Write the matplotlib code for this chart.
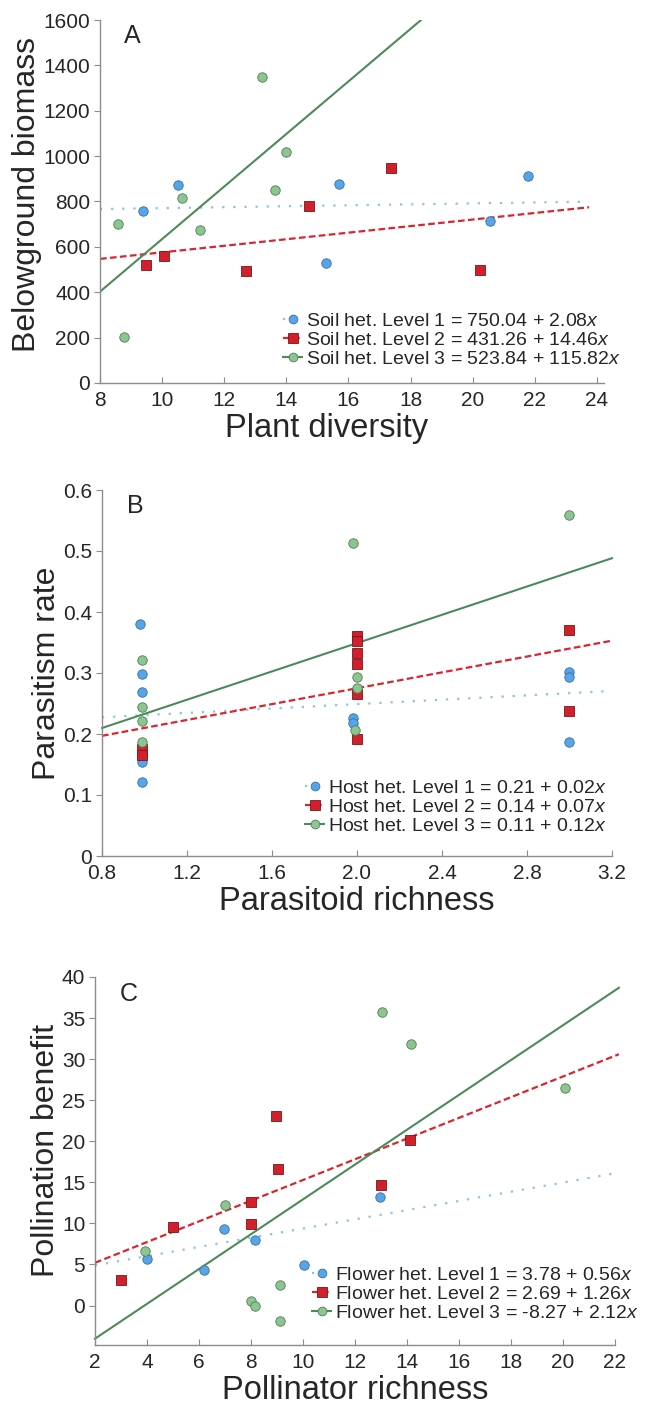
import numpy as np
import matplotlib
matplotlib.use('Agg')
import matplotlib.pyplot as plt
from matplotlib.lines import Line2D

plt.rcParams['font.family'] = ['Liberation Sans', 'DejaVu Sans']
plt.rcParams['mathtext.fontset'] = 'custom'
plt.rcParams['mathtext.rm'] = 'Liberation Sans'
plt.rcParams['mathtext.it'] = 'Liberation Sans:italic'

# ---- panel A: belowground biomass vs plant diversity
a_x1 = [9.39, 10.52, 15.70, 15.28, 20.56, 21.78]
a_y1 = [756, 873, 878, 528, 716, 914]
a_x2 = [9.48, 10.07, 12.71, 14.72, 17.37, 20.23]
a_y2 = [521, 561, 493, 778, 947, 499]
a_x3 = [8.57, 8.77, 10.64, 11.22, 13.23, 13.63, 13.99]
a_y3 = [702, 203, 816, 675, 1350, 851, 1016]
a_fit = [(750.04, 2.08), (431.26, 14.46), (-523.84, 115.82)]
a_labels = ['Soil het. Level 1 = 750.04 + 2.08$x$',
            'Soil het. Level 2 = 431.26 + 14.46$x$',
            'Soil het. Level 3 = 523.84 + 115.82$x$']

# ---- panel B: parasitism rate vs parasitoid richness
b_x1 = [0.98, 0.99, 0.99, 0.99, 0.99, 0.99, 1.98, 1.98, 3.0, 3.0, 3.0]
b_y1 = [0.381, 0.299, 0.269, 0.162, 0.154, 0.121, 0.226, 0.218, 0.302, 0.294, 0.187]
b_x2 = [0.99, 0.99, 2.0, 2.0, 2.0, 2.0, 2.0, 2.0, 3.0, 3.0]
b_y2 = [0.175, 0.166, 0.360, 0.352, 0.333, 0.314, 0.266, 0.191, 0.370, 0.237]
b_x3 = [0.99, 0.99, 0.99, 0.99, 1.98, 2.0, 2.0, 1.99, 3.0]
b_y3 = [0.322, 0.245, 0.222, 0.187, 0.513, 0.293, 0.275, 0.207, 0.559]
b_fit = [(0.213, 0.018), (0.145, 0.065), (0.117, 0.116)]
b_labels = ['Host het. Level 1 = 0.21 + 0.02$x$',
            'Host het. Level 2 = 0.14 + 0.07$x$',
            'Host het. Level 3 = 0.11 + 0.12$x$']

# ---- panel C: pollination benefit vs pollinator richness
c_x1 = [4.0, 6.19, 6.98, 8.17, 10.03, 12.96]
c_y1 = [5.62, 4.27, 9.28, 8.02, 4.92, 13.27]
c_x2 = [2.99, 5.01, 8.01, 8.01, 8.98, 9.04, 13.01, 14.1]
c_y2 = [3.17, 9.52, 12.61, 9.93, 23.07, 16.68, 14.73, 20.14]
c_x3 = [3.91, 7.01, 7.99, 8.16, 9.1, 9.1, 13.04, 14.14, 20.06]
c_y3 = [6.59, 12.25, 0.53, -0.08, 2.48, -1.83, 35.69, 31.86, 26.53]
c_fit = [(3.78, 0.56), (2.69, 1.26), (-8.27, 2.12)]
c_labels = ['Flower het. Level 1 = 3.78 + 0.56$x$',
            'Flower het. Level 2 = 2.69 + 1.26$x$',
            'Flower het. Level 3 = -8.27 + 2.12$x$']

W, H = 653, 1406
fig = plt.figure(figsize=(W / 100, H / 100), dpi=100)

txt = '#262626'
spine_c = '#8c8c8c'
styles = [
    dict(marker='o', mfc='#56a5e8', mec='#3b6f9c', line='#8cc4dc', ls=(0, (1, 4)), lw=1.6),
    dict(marker='s', mfc='#d1202b', mec='#7a1418', line='#d8262f', ls=(0, (3, 1.5)), lw=1.6),
    dict(marker='o', mfc='#8cc590', mec='#4f7d55', line='#4d8a59', ls='-', lw=1.5),
]


def make_axes(l, r, t, b):
    return fig.add_axes([l / W, 1 - b / H, (r - l) / W, (b - t) / H])


def draw_panel(ax, xs, ys, fits, labels, xline, letter, xlabel, ylabel,
               xlim, ylim, xticks, yticks, xfmt, leg_anchor, clip=True):
    handles = []
    for i in range(3):
        st = styles[i]
        a, b = fits[i]
        xl = np.array(xline)
        ax.plot(xl, a + b * xl, color=st['line'], ls=st['ls'], lw=st['lw'],
                clip_on=clip, zorder=2)
        ms = 7.2 if st['marker'] == 's' else 6.8
        ax.plot(xs[i], ys[i], ls='none', marker=st['marker'], ms=ms,
                mfc=st['mfc'], mec=st['mec'], mew=0.6, zorder=3, clip_on=False)
        handles.append(Line2D([], [], color=st['line'], ls=st['ls'], lw=st['lw'],
                              marker=st['marker'], ms=ms - 0.5, mfc=st['mfc'],
                              mec=st['mec'], mew=0.6))
    ax.set_xlim(*xlim)
    ax.set_ylim(*ylim)
    ax.set_xticks(xticks)
    ax.set_xticklabels([xfmt.format(v) for v in xticks])
    ax.set_yticks(yticks)
    for s in ['top', 'right']:
        ax.spines[s].set_visible(False)
    for s in ['left', 'bottom']:
        ax.spines[s].set_color(spine_c)
        ax.spines[s].set_linewidth(1.0)
    ax.tick_params(axis='x', direction='in', length=4, color=spine_c,
                   labelsize=15, labelcolor=txt, pad=6)
    ax.tick_params(axis='y', direction='out', length=4, color=spine_c,
                   labelsize=15, labelcolor=txt, pad=3)
    ax.set_xlabel(xlabel, fontsize=23.5, color=txt, labelpad=2)
    ax.set_ylabel(ylabel, fontsize=23, color=txt, labelpad=1)
    ax.text(0.065, 0.955, letter, transform=ax.transAxes, fontsize=18,
            color=txt, ha='center', va='center')
    leg = fig.legend(handles, labels, loc='upper left',
                     bbox_to_anchor=(leg_anchor[0] / W, 1 - leg_anchor[1] / H),
                     frameon=False, fontsize=14, handlelength=1.0,
                     handletextpad=0.2, labelspacing=0.08, borderpad=0,
                     borderaxespad=0)
    for t in leg.get_texts():
        t.set_color(txt)


axA = make_axes(100, 604, 20, 383)
draw_panel(axA, [a_x1, a_x2, a_x3], [a_y1, a_y2, a_y3], a_fit, a_labels,
           [8, 23.75], 'A', 'Plant diversity', 'Belowground biomass',
           (8, 24.23), (0, 1600), [8, 10, 12, 14, 16, 18, 20, 22, 24],
           [0, 200, 400, 600, 800, 1000, 1200, 1400, 1600], '{:d}',
           (283, 312))
axA.xaxis.label.set_x(0.45)
axA.yaxis.label.set_y(0.52)

axB = make_axes(102, 612, 490, 856)
draw_panel(axB, [b_x1, b_x2, b_x3], [b_y1, b_y2, b_y3], b_fit, b_labels,
           [0.8, 3.2], 'B', 'Parasitoid richness', 'Parasitism rate',
           (0.8, 3.2), (0, 0.6), [0.8, 1.2, 1.6, 2.0, 2.4, 2.8, 3.2],
           [0, 0.1, 0.2, 0.3, 0.4, 0.5, 0.6], '{:.1f}',
           (305, 779), clip=False)
axB.set_yticklabels(['0', '0.1', '0.2', '0.3', '0.4', '0.5', '0.6'])

axC = make_axes(95, 615, 977, 1345)
draw_panel(axC, [c_x1, c_x2, c_x3], [c_y1, c_y2, c_y3], c_fit, c_labels,
           [2, 22.15], 'C', 'Pollinator richness', 'Pollination benefit',
           (2, 22), (-4.8, 40), [2, 4, 6, 8, 10, 12, 14, 16, 18, 20, 22],
           [0, 5, 10, 15, 20, 25, 30, 35, 40], '{:d}',
           (312, 1266), clip=False)
axC.yaxis.label.set_y(0.53)

fig.savefig('out.png', dpi=100)
